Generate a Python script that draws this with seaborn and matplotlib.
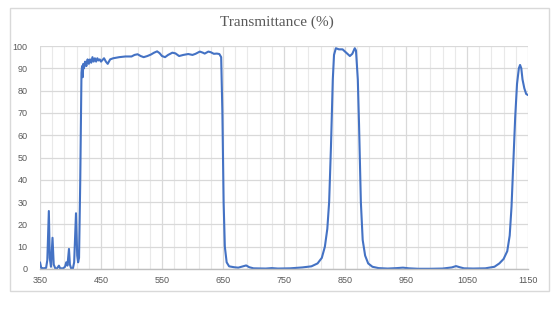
import matplotlib
matplotlib.use("Agg")
import matplotlib.pyplot as plt
import matplotlib.patches as mpatches
from matplotlib.ticker import FixedLocator
import pandas as pd
import seaborn as sns

wavelength = [350, 352, 356, 360, 362, 364.5, 366, 368, 370.5, 372.5, 375, 378, 381, 383, 388,
              391, 393, 395, 397.5, 399, 401, 404, 406, 409, 411, 412.5, 414, 416, 418, 419,
              420, 421, 422, 424, 426, 428, 430, 432, 434, 436, 438, 440, 442, 444, 446, 448,
              450, 455, 458, 461, 465, 470, 480, 490, 500, 505, 510, 515, 520, 526, 532, 537,
              542, 546, 550, 555, 560, 567, 572, 578, 585, 593, 600, 605, 612, 617, 620, 626,
              630, 635, 640, 644, 647, 649, 651, 653, 656, 660, 668, 675, 683, 688, 693, 700,
              720, 730, 740, 760, 780, 795, 805, 812, 817, 821, 824, 827, 830, 832, 835, 840,
              846, 852, 858, 862, 866, 868, 871, 873, 876, 879, 883, 888, 895, 905, 920, 935,
              945, 955, 970, 990, 1010, 1025, 1032, 1038, 1045, 1060, 1080, 1095, 1103, 1110,
              1116, 1120, 1123, 1126, 1129, 1132, 1135, 1137, 1139, 1141, 1144, 1147, 1150]
transmittance = [3, 0.5, 0.3, 0.5, 4, 26, 5, 1, 14, 2, 0.3, 0.3, 1.5, 0.3, 0.3,
                 1, 3, 1.5, 9, 2, 0.3, 0.3, 3, 25, 6, 3, 5, 40, 88, 91,
                 86, 92, 90, 93, 91, 94, 92, 94, 92.5, 95, 93, 94.5, 93, 94.5, 93.5, 94,
                 93, 94.5, 93, 92, 94, 94.5, 95, 95.3, 95.3, 96, 96.3, 95.5, 95, 95.5, 96.2, 97,
                 97.6, 96.8, 95.5, 95, 96, 97, 96.7, 95.5, 96, 96.4, 96, 96.5, 97.5, 97, 96.6, 97.5,
                 97.2, 96.5, 96.6, 96.4, 95, 70, 30, 10, 3, 1.2, 0.8, 0.6, 1.2, 1.6, 0.8, 0.3,
                 0.2, 0.4, 0.2, 0.3, 0.7, 1.2, 2.5, 5, 10, 18, 30, 55, 85, 96, 99, 98.5,
                 98.5, 97, 95.5, 96.5, 99, 98, 85, 65, 30, 13, 6, 2.5, 1, 0.4, 0.2, 0.4,
                 0.6, 0.3, 0.1, 0.1, 0.2, 0.7, 1.3, 0.8, 0.3, 0.2, 0.3, 1, 2.5, 4.5,
                 8, 15, 28, 48, 68, 83, 90, 91.5, 90, 85, 81, 78.5, 78]
x_ticks = [350, 450, 550, 650, 750, 850, 950, 1050, 1150]
y_ticks = [0, 10, 20, 30, 40, 50, 60, 70, 80, 90, 100]
title = "Transmittance (%)"

df = pd.DataFrame({"wavelength": wavelength, "transmittance": transmittance})

sns.set_theme(style="white")
fig = plt.figure(figsize=(5.54, 3.31), dpi=100)
fig.patch.set_facecolor("white")

# outer chart frame
frame = mpatches.Rectangle((10 / 554, 40 / 331), 539 / 554, 283 / 331,
                           transform=fig.transFigure, fill=False,
                           edgecolor="#d9d9d9", linewidth=1.0)
fig.patches.append(frame)

ax = fig.add_axes([40 / 554, 62 / 331, 488 / 554, 223 / 331])
ax.set_facecolor("white")

sns.lineplot(data=df, x="wavelength", y="transmittance", ax=ax, sort=False,
             estimator=None, color="#4472C4", linewidth=1.5)

ax.set_xlim(350, 1150)
ax.set_ylim(0, 100)
ax.set_xticks(x_ticks)
ax.set_yticks(y_ticks)
ax.xaxis.set_minor_locator(FixedLocator(list(range(370, 1150, 20))))
ax.grid(which="major", axis="both", color="#d9d9d9", linewidth=0.9)
ax.grid(which="minor", axis="x", color="#e9e9e9", linewidth=0.8)
ax.set_axisbelow(True)
ax.set_xlabel("")
ax.set_ylabel("")

for s in ["top", "right", "left"]:
    ax.spines[s].set_visible(False)
ax.spines["bottom"].set_color("#bfbfbf")
ax.spines["bottom"].set_linewidth(1.0)

ax.tick_params(axis="both", which="both", length=0, labelsize=6.5,
               labelcolor="#595959")
ax.tick_params(axis="x", pad=5)
ax.tick_params(axis="y", pad=9)
for lab in ax.get_xticklabels() + ax.get_yticklabels():
    lab.set_family("Liberation Sans")

fig.text(0.5, 1 - 22 / 331, title, ha="center", va="center",
         fontsize=11, color="#595959", family="Liberation Serif")

fig.savefig("out.png", dpi=100, facecolor="white")
